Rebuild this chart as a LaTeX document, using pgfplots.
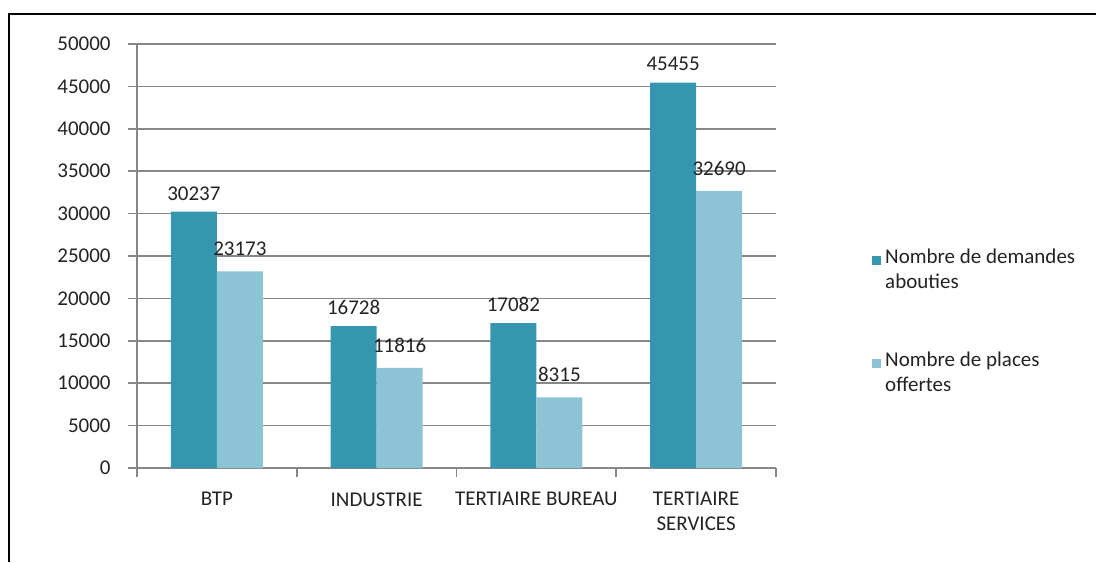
\documentclass[border=0pt]{standalone}
\usepackage{pgfplots}
\pgfplotsset{compat=1.18}
\usepackage{fontspec}
\setmainfont{Carlito}
\definecolor{darkbar}{RGB}{55,150,175}
\definecolor{lightbar}{RGB}{140,196,214}
\definecolor{axgray}{RGB}{135,135,135}
\definecolor{txt}{RGB}{35,35,35}
\begin{document}
\fontsize{10.5pt}{12.5pt}\selectfont
\begin{tikzpicture}
\useasboundingbox (0,0) rectangle (548pt,281pt);
\draw[line width=1pt] (4.25pt,0) -- (4.25pt,274pt) -- (548pt,274pt);
\begin{axis}[
    at={(68.5pt,47pt)}, anchor=south west,
    scale only axis, width=319.5pt, height=212pt,
    ybar=0pt, bar width=23pt,
    xmin=-0.5, xmax=3.5, ymin=0, ymax=50000,
    xtick={0,1,2,3},
    xticklabels={BTP,INDUSTRIE,TERTIAIRE BUREAU,{TERTIAIRE\\SERVICES}},
    xticklabel style={align=center, text=txt, yshift=-4pt},
    minor xtick={-0.5,0.5,1.5,2.5,3.5},
    major x tick style={draw=none},
    ytick={0,5000,...,50000},
    scaled y ticks=false,
    yticklabel style={text=txt, xshift=-5pt},
    /pgf/number format/1000 sep={},
    /pgf/number format/assume math mode=true,
    axis x line*=bottom, axis y line*=left,
    axis line style={axgray, line width=0.8pt},
    tick align=outside, major tick length=4.5pt, minor tick length=4.5pt,
    tick style={axgray, line width=0.8pt},
    ymajorgrids, grid style={axgray, line width=0.8pt},
    nodes near coords,
    every node near coord/.append style={text=txt, font=\fontsize{10.5pt}{12.5pt}\selectfont},
    legend style={at={(1.15,0.344)}, anchor=west, draw=none, fill=none,
        inner sep=0pt, row sep=26pt, text=txt,
        nodes={align=left, inner xsep=2pt}},
    legend cell align=left,
    legend image code/.code={\fill[#1] (0pt,3pt) rectangle (4.5pt,7.5pt);},
]
\addplot[fill=darkbar, draw=none,
    every node near coord/.append style={yshift=2pt}]
    coordinates {(0,30237) (1,16728) (2,17082) (3,45455)};
\addplot[fill=lightbar, draw=none,
    every node near coord/.append style={yshift=4pt}]
    coordinates {(0,23173) (1,11816) (2,8315) (3,32690)};
\addlegendentry{Nombre de demandes\\abouties}
\addlegendentry{Nombre de places\\offertes}
\end{axis}
\end{tikzpicture}
\end{document}
